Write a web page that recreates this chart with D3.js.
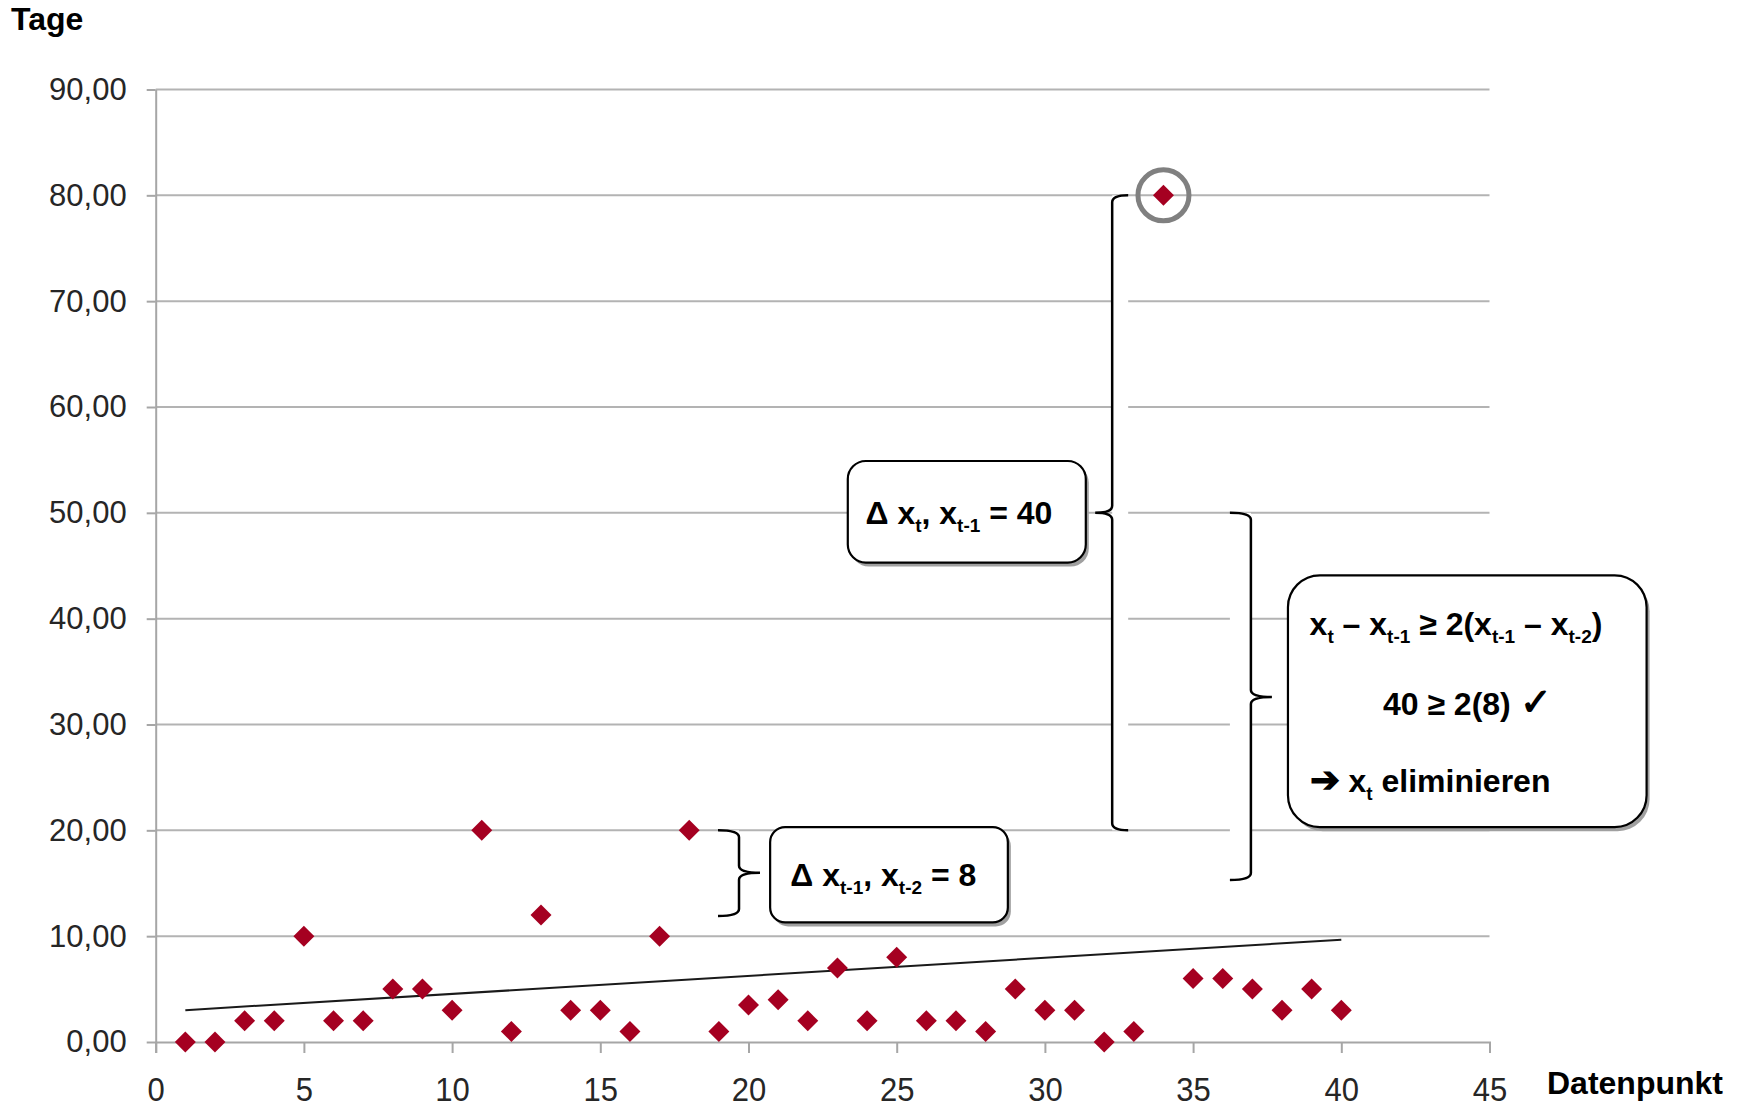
<!DOCTYPE html>
<html>
<head>
<meta charset="utf-8">
<script src="https://cdn.jsdelivr.net/npm/d3@7"></script>
<style>
  html, body { margin: 0; padding: 0; background: #fff; }
  svg { display: block; font-family: "Liberation Sans", Arial, sans-serif; }
</style>
</head>
<body>
<svg id="chart" width="1744" height="1107"></svg>
<script>
// ---- data ----
const datenpunkt = [1,2,3,4,5,6,7,8,9,10,11,12,13,14,15,16,17,18,19,20,21,22,23,24,25,26,27,28,29,30,31,32,33,34,35,36,37,38,39,40];
const tage = [0,0,2,2,10,2,2,5,5,3,20,1,12,3,3,1,10,20,1,3.5,4,2,7,2,8,2,2,1,5,3,3,0,1,80,6,6,5,3,5,3];
const yTicks = [0,10,20,30,40,50,60,70,80,90];
const xTicks = [0,5,10,15,20,25,30,35,40,45];
const outlierIndex = 34;
const yTitle = "Tage";
const xTitle = "Datenpunkt";

// ---- layout ----
const svg = d3.select("#chart");
const x = d3.scaleLinear().domain([0,45]).range([155.7, 1489.5]);
const y = d3.scaleLinear().domain([0,90]).range([1042, 89.5]);
const loc = d3.formatLocale({decimal: ",", thousands: ".", grouping: [3], currency: ["", "€"]});
const fmt = loc.format(".2f");
const gridColor = "#b3b3b3";
const axisColor = "#a6a6a6";
const textColor = "#262626";
const red = "#a50021";

// gridlines
svg.append("g").selectAll("line").data(yTicks.filter(d => d > 0)).join("line")
  .attr("x1", x(0)).attr("x2", x(45))
  .attr("y1", d => y(d)).attr("y2", d => y(d))
  .attr("stroke", gridColor).attr("stroke-width", 2);

// y axis
const gy = svg.append("g").attr("transform", `translate(${x(0)},0)`)
  .call(d3.axisLeft(y).tickValues(yTicks).tickFormat(fmt).tickSize(9).tickSizeOuter(0).tickPadding(20));
gy.select(".domain").attr("stroke", axisColor).attr("stroke-width", 2);
gy.selectAll(".tick line").attr("stroke", axisColor).attr("stroke-width", 2);
gy.selectAll(".tick text").attr("fill", textColor).attr("font-size", 31)
  .attr("font-family", "'Liberation Sans', Arial, sans-serif");

// x axis
const gx = svg.append("g").attr("transform", `translate(0,${y(0)})`)
  .call(d3.axisBottom(x).tickValues(xTicks).tickSize(11).tickSizeOuter(11));
gx.select(".domain").attr("stroke", axisColor).attr("stroke-width", 2);
gx.selectAll(".tick line").attr("stroke", axisColor).attr("stroke-width", 2);
gx.selectAll(".tick text").attr("fill", textColor).attr("font-size", 31)
  .attr("font-family", "'Liberation Sans', Arial, sans-serif")
  .attr("y", 0).attr("dy", 0)
  .attr("transform", "translate(0,58.5) scale(1,1.08)");

// axis titles
svg.append("text").attr("x", 11).attr("y", 30).attr("font-size", 32).attr("font-weight", "bold")
  .attr("fill", "#000").text(yTitle);
svg.append("text").attr("x", 1547).attr("y", 1094).attr("font-size", 32).attr("font-weight", "bold")
  .attr("fill", "#000").text(xTitle);

// linear trend line (least squares over data)
const n = datenpunkt.length;
const mx = d3.mean(datenpunkt), my = d3.mean(tage);
let sxy = 0, sxx = 0;
for (let i = 0; i < n; i++) { sxy += (datenpunkt[i]-mx)*(tage[i]-my); sxx += (datenpunkt[i]-mx)**2; }
const slope = sxy / sxx, icpt = my - slope * mx;
const xmin = d3.min(datenpunkt), xmax = d3.max(datenpunkt);
svg.append("line")
  .attr("x1", x(xmin)).attr("y1", y(icpt + slope*xmin))
  .attr("x2", x(xmax)).attr("y2", y(icpt + slope*xmax))
  .attr("stroke", "#1a1a1a").attr("stroke-width", 2);

// points
const diamond = d3.symbol().type(d3.symbolSquare).size(220);
svg.append("g").selectAll("path").data(datenpunkt.map((d,i) => [d, tage[i]])).join("path")
  .attr("d", diamond)
  .attr("transform", d => `translate(${x(d[0])},${y(d[1])}) rotate(45)`)
  .attr("fill", red);

// ---- annotations ----
function brace(g, xv, yTop, yBot, yTip, dir, hook, tip) {
  // dir: -1 tip points left (hooks right), +1 tip points right (hooks left)
  const X = x(xv), y0 = y(yTop), y1 = y(yBot), ym = y(yTip);
  const hx = X - dir * hook, tx = X + dir * tip, r = 7;
  g.append("rect").attr("x", Math.min(X, hx)).attr("width", hook)
    .attr("y", y0).attr("height", y1 - y0).attr("fill", "#fff");
  const p = `M${hx},${y0} Q${X},${y0} ${X},${y0+r} L${X},${ym-r} Q${X},${ym} ${tx},${ym} ` +
            `Q${X},${ym} ${X},${ym+r} L${X},${y1-r} Q${X},${y1} ${hx},${y1}`;
  g.append("path").attr("d", p).attr("fill", "none").attr("stroke", "#000").attr("stroke-width", 2.5);
}
const ann = svg.append("g");
brace(ann, 32.27, 80, 20, 50, -1, 16, 17);
brace(ann, 36.95, 50, 15.3, 32.6, 1, 21, 21);
brace(ann, 19.68, 20, 11.9, 16, 1, 21, 21);

function box(g, x0, x1, yTop, yBot, rad) {
  const X0 = x(x0), X1 = x(x1), Y0 = y(yTop), Y1 = y(yBot);
  g.append("rect").attr("x", X0+3).attr("y", Y0+4).attr("width", X1-X0).attr("height", Y1-Y0)
    .attr("rx", rad).attr("fill", "#a0a0a0");
  g.append("rect").attr("x", X0).attr("y", Y0).attr("width", X1-X0).attr("height", Y1-Y0)
    .attr("rx", rad).attr("fill", "#fff").attr("stroke", "#000").attr("stroke-width", 2.2);
}
box(ann, 23.35, 31.38, 54.9, 45.3, 18);
box(ann, 20.73, 28.75, 20.3, 11.3, 15);
box(ann, 38.2, 50.3, 44.1, 20.3, 32);

function richText(g, xPos, yBase, anchor, parts) {
  const t = g.append("text").attr("x", xPos).attr("y", yBase).attr("text-anchor", anchor)
    .attr("font-size", 32).attr("font-weight", "bold").attr("fill", "#000");
  let sub = false;
  parts.forEach(([s, isSub, fs]) => {
    const ts = t.append("tspan").text(s);
    if (isSub && !sub) ts.attr("dy", 8).attr("font-size", 19);
    else if (isSub) ts.attr("font-size", 19);
    else if (!isSub && sub) ts.attr("dy", -8);
    if (fs) ts.attr("font-size", fs);
    sub = isSub;
  });
  return t;
}
richText(ann, x(27.1), y(50) + 11, "middle",
  [["Δ x",0],["t",1],[", x",0],["t-1",1],[" = 40",0]]);
richText(ann, x(24.55), y(15.8) + 11, "middle",
  [["Δ x",0],["t-1",1],[", x",0],["t-2",1],[" = 8",0]]);
richText(ann, x(38.93), y(38.5), "start",
  [["x",0],["t",1],[" – x",0],["t-1",1],[" ≥ 2(x",0],["t-1",1],[" – x",0],["t-2",1],[")",0]]);
richText(ann, x(44.25), y(30.9), "middle",
  [["40 ≥ 2(8)   ",0],["✓",0,38]]);
richText(ann, x(38.93), y(23.6), "start",
  [["➔",0,36],["  x",0],["t",1],[" eliminieren",0]]);

// outlier circle
svg.append("circle").attr("cx", x(datenpunkt[outlierIndex-1])).attr("cy", y(tage[outlierIndex-1]))
  .attr("r", 25.5).attr("fill", "none").attr("stroke", "#808080").attr("stroke-width", 5);
</script>
</body>
</html>
